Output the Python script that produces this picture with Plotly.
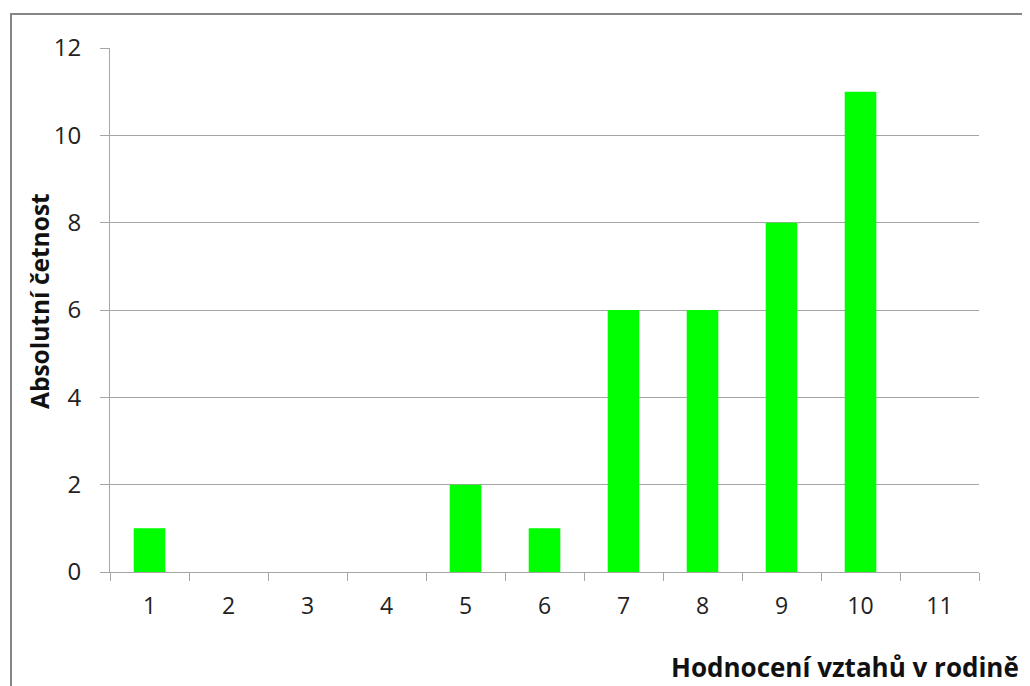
import plotly.graph_objects as go

categories = ["1", "2", "3", "4", "5", "6", "7", "8", "9", "10", "11"]
counts = [1, 0, 0, 0, 2, 1, 6, 6, 8, 11, 0]
y_ticks = [0, 2, 4, 6, 8, 10, 12]
x_title = "Hodnocení vztahů v rodině"
y_title = "Absolutní četnost"

# the page body has an 8px margin, so the figure is sized to fit the window
OFF = 8
W, H = 1030 - OFF, 686 - OFF
L, R, T, B = 110 - OFF, 979 - OFF, 48 - OFF, 572 - OFF  # plot area (figure px)

def px_x(p):
    return (p - OFF - L) / (R - L)

def px_y(p):
    return (B - (p - OFF)) / (B - T)

FONT = "Open Sans"
GRID = "#a6a6a6"

fig = go.Figure()
fig.add_trace(go.Bar(
    x=categories, y=counts,
    marker=dict(color="#00ff00", line=dict(width=0)),
    hoverinfo="x+y",
))

fig.update_layout(
    width=W, height=H,
    margin=dict(l=L, r=W - R, t=T, b=H - B, pad=0),
    paper_bgcolor="white", plot_bgcolor="white",
    bargap=0.6,
    showlegend=False,
    font=dict(family=FONT, size=24, color="#222222"),
    xaxis=dict(
        type="category",
        showgrid=False,
        showline=True, linecolor=GRID, linewidth=1,
        ticks="outside", ticklen=8, tickcolor=GRID, tickwidth=1,
        tickson="boundaries",
        ticklabelstandoff=13,
        tickfont=dict(family=FONT, size=23, color="#222222"),
    ),
    yaxis=dict(
        range=[0, 12], tickvals=y_ticks,
        showgrid=True, gridcolor=GRID, gridwidth=1,
        showline=True, linecolor=GRID, linewidth=1,
        ticks="outside", ticklen=9, tickcolor=GRID, tickwidth=1,
        zeroline=False,
        ticklabelstandoff=14,
        tickfont=dict(family=FONT, size=24, color="#222222"),
    ),
    shapes=[dict(
        type="rect", xref="paper", yref="paper",
        x0=px_x(11), x1=px_x(1045), y0=px_y(14), y1=px_y(700),
        line=dict(color="#868686", width=2), fillcolor="rgba(0,0,0,0)",
        layer="below",
    )],
    annotations=[
        dict(text=x_title, xref="paper", yref="paper",
             x=px_x(1021), y=px_y(667), xanchor="right", yanchor="middle",
             showarrow=False,
             font=dict(family=FONT, size=26, color="#111111", weight="bold")),
        dict(text=y_title, xref="paper", yref="paper",
             x=px_x(39), y=px_y(301), xanchor="center", yanchor="middle",
             textangle=-90, showarrow=False,
             font=dict(family=FONT, size=24.5, color="#111111", weight="bold")),
    ],
)

fig.write_html("out.html")
